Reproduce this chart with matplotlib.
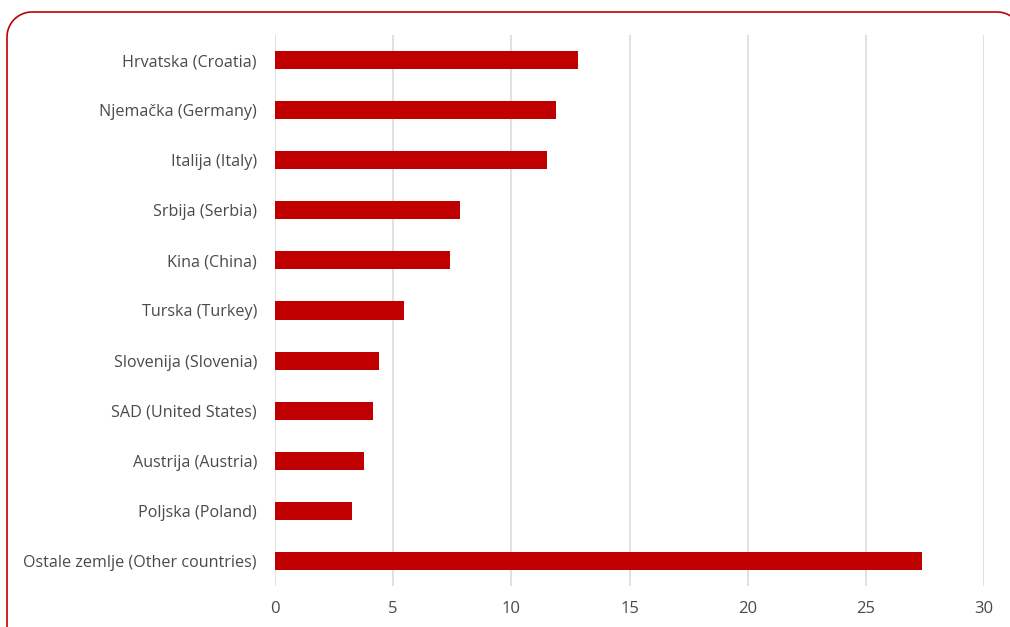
import matplotlib
matplotlib.use("Agg")
import numpy as np
import matplotlib.pyplot as plt
from matplotlib.patches import PathPatch
from matplotlib.path import Path

categories = [
    "Hrvatska (Croatia)",
    "Njemačka (Germany)",
    "Italija (Italy)",
    "Srbija (Serbia)",
    "Kina (China)",
    "Turska (Turkey)",
    "Slovenija (Slovenia)",
    "SAD (United States)",
    "Austrija (Austria)",
    "Poljska (Poland)",
    "Ostale zemlje (Other countries)",
]
values = [12.84, 11.88, 11.51, 7.83, 7.41, 5.46, 4.40, 4.15, 3.77, 3.26, 27.39]
xticks = [0, 5, 10, 15, 20, 25, 30]

plt.rcParams['font.family'] = ['Open Sans', 'DejaVu Sans']

W, H = 1010, 627
fig = plt.figure(figsize=(W / 100, H / 100), dpi=100)
ax = fig.add_axes([275/W, 1 - 586/H, (984 - 275)/W, (586 - 35)/H])

y = list(range(len(categories)))
ax.barh(y, values, height=0.36, color="#C00000", zorder=3)
ax.set_ylim(len(categories) - 0.5, -0.5)
ax.set_xlim(0, 30)
ax.set_xticks(xticks)
ax.set_yticks(y)
ax.set_yticklabels(categories)
ax.tick_params(axis='both', length=0, colors="#4a4a4a")
ax.tick_params(axis='y', pad=13, labelsize=11.6)
ax.tick_params(axis='x', pad=11, labelsize=12)
ax.grid(axis='x', color="#D9D9D9", linewidth=1.1, zorder=0)
for s in ax.spines.values():
    s.set_visible(False)

# rounded frame (pixel geometry, y measured from top)
L, T, R, B, r = 7, 12, 1022, 680, 25
def arc(cx, cy, a0, a1):
    t = np.linspace(np.radians(a0), np.radians(a1), 20)
    return np.column_stack([cx + r * np.cos(t), cy - r * np.sin(t)])
pts = np.vstack([
    arc(L + r, T + r, 180, 90),
    arc(R - r, T + r, 90, 0),
    arc(R - r, B - r, 0, -90),
    arc(L + r, B - r, -90, -180),
    [[L, T + r]],
])
pts_fig = np.column_stack([pts[:, 0] / W, 1 - pts[:, 1] / H])
frame = PathPatch(Path(pts_fig), transform=fig.transFigure, fill=False,
                  edgecolor="#C00000", linewidth=1.2, clip_on=False)
fig.patches.append(frame)

fig.savefig("out.png", dpi=100, facecolor="white")
